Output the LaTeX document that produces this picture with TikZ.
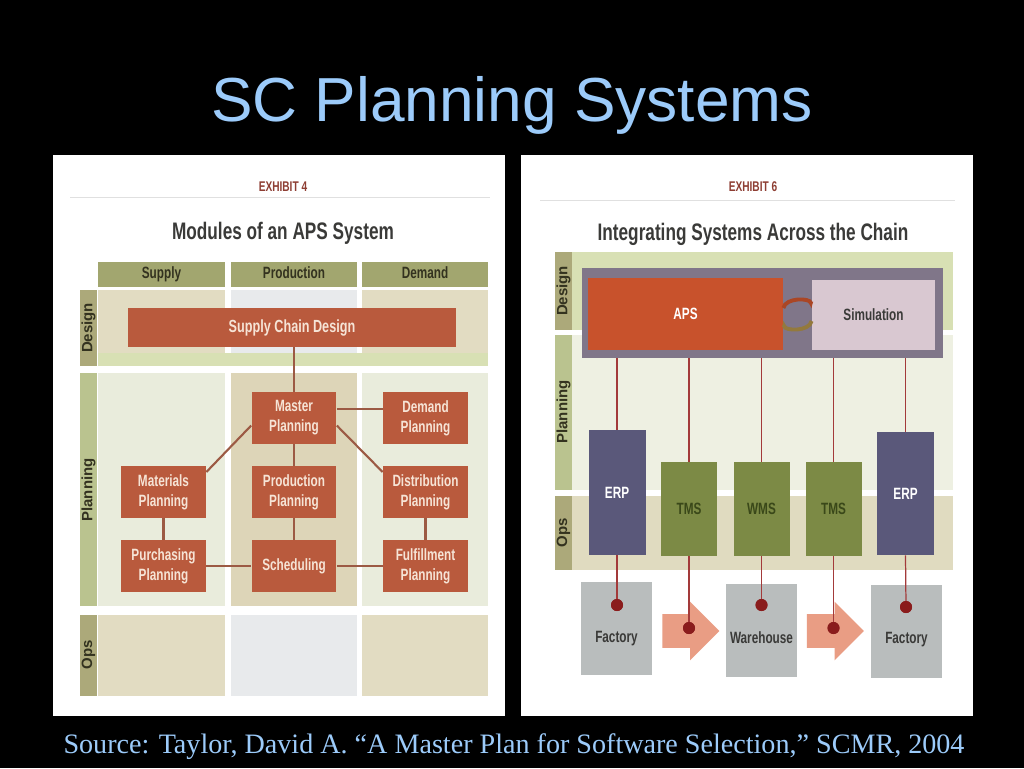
\documentclass[tikz,border=0pt]{standalone}
\usepackage{fontspec}
\setmainfont{Liberation Serif}
\newfontfamily\headfont{Liberation Sans}
\newfontfamily\cond[FakeStretch=0.72]{Liberation Sans}
\usetikzlibrary{shapes.arrows,arrows.meta}

\definecolor{titleblue}{HTML}{9CCBFA}
\definecolor{rust}{HTML}{B95A3D}
\definecolor{modtext}{HTML}{F6E4D6}
\definecolor{headgreen}{HTML}{A2A66F}
\definecolor{headtext}{HTML}{33321F}
\definecolor{stripA}{HTML}{ACA97A}
\definecolor{stripB}{HTML}{BAC38F}
\definecolor{beige}{HTML}{E2DCC2}
\definecolor{paleblue}{HTML}{E8EAEC}
\definecolor{palegreen}{HTML}{E9ECDC}
\definecolor{tan}{HTML}{DDD5B8}
\definecolor{linkbrown}{HTML}{9C5A44}
\definecolor{exred}{HTML}{8E3E33}
\definecolor{inktext}{HTML}{3A3A38}
\definecolor{designband}{HTML}{D8E0B4}
\definecolor{planband}{HTML}{EEF0E2}
\definecolor{opsband}{HTML}{E0DBC0}
\definecolor{frame}{HTML}{807689}
\definecolor{apsred}{HTML}{C8522C}
\definecolor{simpink}{HTML}{D9C8D1}
\definecolor{erpblue}{HTML}{5A587A}
\definecolor{tmsgreen}{HTML}{7C8A45}
\definecolor{tmstext}{HTML}{3A4819}
\definecolor{sitegray}{HTML}{B9BDBD}
\definecolor{flowpink}{HTML}{E99D84}
\definecolor{dotred}{HTML}{8A1C1C}
\definecolor{wirered}{HTML}{A33A3A}

\begin{document}
\begin{tikzpicture}[x=0.02cm, y=-0.02cm,
  every node/.style={inner sep=0pt, align=center},
  module/.style={rectangle, fill=rust, text=modtext,
    font=\cond\bfseries\fontsize{9.3}{11.3}\selectfont,
    minimum width=1.7cm, minimum height=1.04cm},
  colhead/.style={fill=headgreen, text=headtext,
    font=\cond\bfseries\fontsize{9.3}{11}\selectfont,
    text height=1.5ex, text depth=0.5ex,
    minimum width=2.54cm, minimum height=0.5cm},
  rowlabel/.style={rotate=90, text=headtext,
    font=\headfont\bfseries\fontsize{8.5}{10}\selectfont},
  exhibit/.style={text=exred, font=\cond\bfseries\fontsize{8}{9}\selectfont},
  heading/.style={text=inktext, font=\cond\bfseries\fontsize{13.6}{15}\selectfont},
  link/.style={draw=linkbrown, line width=1.2pt},
  wire/.style={draw=wirered, line width=0.7pt},
  system/.style={font=\cond\bfseries\fontsize{9.3}{11}\selectfont,
    minimum width=1.14cm},
  site/.style={fill=sitegray, text=inktext, minimum width=1.42cm,
    minimum height=1.86cm},
  flow/.style={single arrow, fill=flowpink, text height=0.66cm, text depth=0pt,
    single arrow head extend=0.25cm, minimum height=1.14cm},
  dot/.style={circle, fill=dotred, minimum size=0.24cm}]

  \fill[black] (0,0) rectangle (1024,768);
  \useasboundingbox (0,0) rectangle (1024,768);

  \node[text=titleblue, anchor=base, font=\headfont\fontsize{35.4}{40}\selectfont]
    (title) at (512,121) {SC Planning Systems};
  \node[text=titleblue, anchor=base, font=\fontsize{16}{18}\selectfont]
    (source) at (514,753) {Source: Taylor, David A. “A Master Plan for Software Selection,” SCMR, 2004};

  % left exhibit
  \fill[white] (53,155) rectangle (505,716);
  \draw[black!12] (70,197) -- (490,197);
  \node[exhibit] (ex4) at (283,187) {EXHIBIT 4};
  \node[heading, anchor=base] (modtitle) at (283,239) {Modules of an APS System};

  \fill[stripA] (80,290) rectangle (97,366);
  \fill[stripB] (80,373) rectangle (97,606);
  \fill[stripA] (80,615) rectangle (97,696);
  \fill[beige] (98,290) rectangle (225,366);
  \fill[paleblue] (231,290) rectangle (357,366);
  \fill[beige] (362,290) rectangle (488,366);
  \fill[designband] (98,353) rectangle (488,366);
  \fill[palegreen] (98,373) rectangle (225,606);
  \fill[tan] (231,373) rectangle (357,606);
  \fill[palegreen] (362,373) rectangle (488,606);
  \fill[beige] (98,615) rectangle (225,696);
  \fill[paleblue] (231,615) rectangle (357,696);
  \fill[beige] (362,615) rectangle (488,696);

  \node[colhead] (supply) at (161.5,274.5) {Supply};
  \node[colhead] (production) at (294,274.5) {Production};
  \node[colhead] (demand) at (425,274.5) {Demand};
  \node[rowlabel] (design) at (88.5,328) {Design};
  \node[rowlabel] (planning) at (88.5,490) {Planning};
  \node[rowlabel] (ops) at (88.5,655) {Ops};

  \node[module, minimum width=6.56cm, minimum height=0.78cm,
    font=\cond\bfseries\fontsize{10}{12}\selectfont] (scd) at (292,327.5) {Supply Chain Design};
  \node[module] (master) at (294,418) {Master\\Planning};
  \node[module] (demandpl) at (425.5,418) {Demand\\Planning};
  \node[module] (materials) at (163.5,492) {Materials\\Planning};
  \node[module] (prodpl) at (294,492) {Production\\Planning};
  \node[module] (distrib) at (425.5,492) {Distribution\\Planning};
  \node[module] (purchasing) at (163.5,566) {Purchasing\\Planning};
  \node[module] (scheduling) at (294,566) {Scheduling};
  \node[module] (fulfil) at (425.5,566) {Fulfillment\\Planning};

  \draw[link] (master.north) -- (master.north |- scd.south);
  \draw[link] ([yshift=0.18cm]master.east) -- ([yshift=0.18cm]demandpl.west);
  \draw[link] (master.190) -- (materials.25);
  \draw[link] (master.-10) -- (distrib.155);
  \draw[link] (master) -- (prodpl);
  \draw[link] (prodpl) -- (scheduling);
  \draw[link] (materials) -- (purchasing);
  \draw[link] (distrib) -- (fulfil);
  \draw[link] (purchasing) -- (scheduling);
  \draw[link] (scheduling) -- (fulfil);
  \node[module] at (294,418) {Master\\Planning};
  \node[module] at (294,492) {Production\\Planning};
  \node[module] at (294,566) {Scheduling};
  \node[module] at (163.5,492) {Materials\\Planning};
  \node[module] at (163.5,566) {Purchasing\\Planning};
  \node[module] at (425.5,492) {Distribution\\Planning};
  \node[module] at (425.5,566) {Fulfillment\\Planning};
  \node[module] at (425.5,418) {Demand\\Planning};

  % right exhibit
  \fill[white] (521,155) rectangle (973,716);
  \draw[black!12] (540,200) -- (955,200);
  \node[exhibit] (ex6) at (753,187) {EXHIBIT 6};
  \node[heading, anchor=base] (chaintitle) at (753,240) {Integrating Systems Across the Chain};

  \fill[designband] (572,252) rectangle (953,330);
  \fill[planband] (572,335) rectangle (953,490);
  \fill[opsband] (572,496) rectangle (953,570);
  \fill[stripA] (555,252) rectangle (572,330);
  \fill[stripB] (555,335) rectangle (572,490);
  \fill[stripA] (555,496) rectangle (572,570);
  \node[rowlabel] (design2) at (563.5,291) {Design};
  \node[rowlabel] (planning2) at (563.5,412) {Planning};
  \node[rowlabel] (ops2) at (563.5,533) {Ops};

  \node[fill=frame, minimum width=7.22cm, minimum height=1.8cm] (core) at (762.5,313) {};
  \node[fill=apsred, text=white, font=\cond\bfseries\fontsize{9.3}{11}\selectfont,
    minimum width=3.9cm, minimum height=1.44cm] (aps) at (685.5,314) {APS};
  \node[fill=simpink, text=inktext, font=\cond\bfseries\fontsize{9.3}{11}\selectfont,
    minimum width=2.46cm, minimum height=1.4cm] (sim) at (873.5,315) {Simulation};
  \draw[-{Latex[length=4pt]}, draw=apsred!85!black, line width=2.2pt]
    ([yshift=0.12cm]aps.east) to[bend left=80] ([yshift=0.12cm]sim.west);
  \draw[-{Latex[length=4pt]}, draw=tmsgreen!70!apsred, line width=2.2pt]
    ([yshift=-0.12cm]sim.west) to[bend left=80] ([yshift=-0.12cm]aps.east);

  \node[system, fill=erpblue, text=white, minimum height=2.5cm] (erp1) at (617,492.5) {ERP};
  \node[system, fill=tmsgreen, text=tmstext, minimum height=1.88cm, minimum width=1.12cm] (tms1) at (689,509) {TMS};
  \node[system, fill=tmsgreen, text=tmstext, minimum height=1.88cm, minimum width=1.12cm] (wms) at (761.5,509) {WMS};
  \node[system, fill=tmsgreen, text=tmstext, minimum height=1.88cm, minimum width=1.12cm] (tms2) at (833.5,509) {TMS};
  \node[system, fill=erpblue, text=white, minimum height=2.46cm] (erp2) at (905.5,493.5) {ERP};

  \node[site, label={[text=inktext, font=\cond\bfseries\fontsize{9.3}{11}\selectfont, yshift=-0.2cm]center:Factory}] (factory1) at (616.5,628.5) {};
  \node[site, label={[text=inktext, font=\cond\bfseries\fontsize{9.3}{11}\selectfont, yshift=-0.16cm]center:Warehouse}] (warehouse) at (761.5,630) {};
  \node[site, label={[text=inktext, font=\cond\bfseries\fontsize{9.3}{11}\selectfont, yshift=-0.18cm]center:Factory}] (factory2) at (906.5,631) {};
  \node[flow] (flow1) at (682.5,631) {};
  \node[flow] (flow2) at (827,631) {};

  \node[dot] (d1) at (617,605) {};
  \node[dot] (d2) at (689,628) {};
  \node[dot] (d3) at (761.5,605) {};
  \node[dot] (d4) at (833.5,628) {};
  \node[dot] (d5) at (906,607) {};

  \foreach \s/\d in {erp1/d1, tms1/d2, wms/d3, tms2/d4, erp2/d5} {
    \draw[wire] (\s.north) -- (\s.north |- core.south);
    \draw[wire] (\s.south) -- (\d.center);
  }
  \foreach \d in {d1,d2,d3,d4,d5}
    \node[dot] at (\d) {};
\end{tikzpicture}
\end{document}
